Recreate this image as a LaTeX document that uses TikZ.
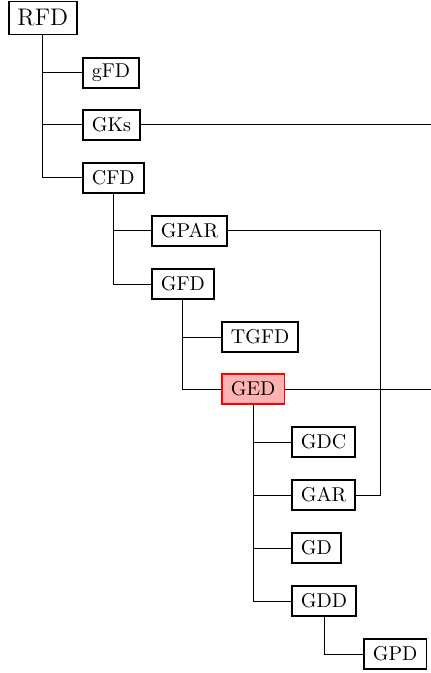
\documentclass[tikz,border=0pt]{standalone}
\begin{document}
\begin{tikzpicture}[x=0.5pt,y=-0.5pt,
  box/.style={draw,line width=0.9pt,inner xsep=4.5pt,inner ysep=0pt,minimum height=15pt,anchor=west,font=\normalsize},
  rootbox/.style={box,minimum height=16.5pt,font=\large,inner xsep=4.3pt},
  hot/.style={box,draw=red,fill=red!30},
  link/.style={line width=0.5pt}]
\useasboundingbox (0,0) rectangle (431,673);
\node[rootbox] (RFD) at (8,18) {RFD};
\node[box] (gFD) at (82,73) {gFD};
\node[box] (GKs) at (82,125) {GKs};
\node[box] (CFD) at (82,178) {CFD};
\node[box] (GPAR) at (151,231) {GPAR};
\node[box] (GFD) at (151,284) {GFD};
\node[box] (TGFD) at (221,337) {TGFD};
\node[hot] (GED) at (221,389) {GED};
\node[box] (GDC) at (291,442) {GDC};
\node[box] (GAR) at (291,495) {GAR};
\node[box] (GD) at (291,548) {GD};
\node[box] (GDD) at (291,601) {GDD};
\node[box] (GPD) at (363,654) {GPD};
\coordinate (e1) at (431,125);
\coordinate (e2) at (431,389);
\coordinate (k) at (380,495);
\draw[link] (RFD.south) |- (gFD.west);
\draw[link] (RFD.south) |- (GKs.west);
\draw[link] (RFD.south) |- (CFD.west);
\draw[link] (CFD.south) |- (GPAR.west);
\draw[link] (CFD.south) |- (GFD.west);
\draw[link] (GFD.south) |- (TGFD.west);
\draw[link] (GFD.south) |- (GED.west);
\draw[link] (GED.south) |- (GDC.west);
\draw[link] (GED.south) |- (GAR.west);
\draw[link] (GED.south) |- (GD.west);
\draw[link] (GED.south) |- (GDD.west);
\draw[link] (GDD.south) |- (GPD.west);
\draw[link] (GKs.east) -- (e1);
\draw[link] (GED.east) -- (e2);
\draw[link] (GPAR.east) -| (k) -- (GAR.east);
\end{tikzpicture}
\end{document}
